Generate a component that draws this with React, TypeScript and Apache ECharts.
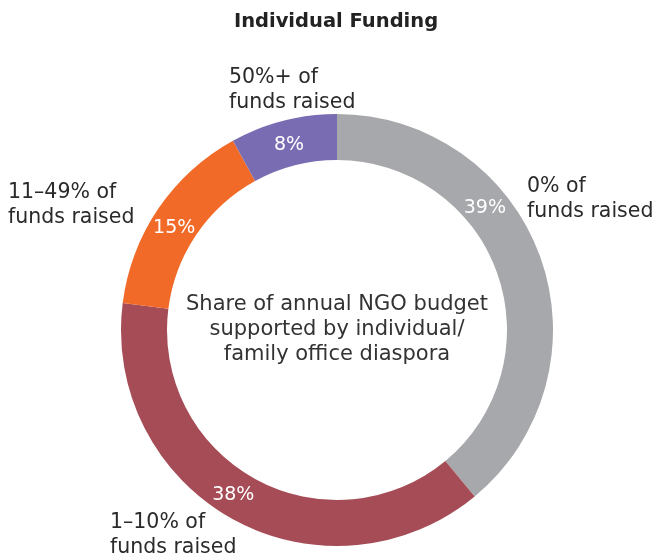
import React, { useEffect, useRef } from "react";
import * as echarts from "echarts";

const title = "Individual Funding";
const centerText = ["Share of annual NGO budget", "supported by individual/", "family office diaspora"];
const categories = ["0% of\nfunds raised", "1–10% of\nfunds raised", "11–49% of\nfunds raised", "50%+ of\nfunds raised"];
const values = [39, 38, 15, 8];
const colors = ["#a7a8ab", "#a54c56", "#f26a27", "#7a6cb2"];
const FONT = "DejaVu Sans";

export default function App() {
  const ref = useRef<HTMLDivElement>(null);
  useEffect(() => {
    if (!ref.current) return;
    const chart = echarts.init(ref.current, null, { renderer: "svg" });
    const cx = 337, cy = 330, rIn = 170, rOut = 216;
    const labelR = 193;
    const labelAngles = [50, 212.5, 302.5, 345.6];
    const outerPos = [
      { x: 527, y: 172 },
      { x: 110, y: 508 },
      { x: 8, y: 178 },
      { x: 229, y: 63 },
    ];
    chart.setOption({
      animation: false,
      graphic: [
        {
          type: "text",
          x: 336,
          y: 20,
          style: {
            text: title,
            fontFamily: FONT,
            fontSize: 19.5,
            fontWeight: "bold",
            fill: "#222",
            align: "center",
            verticalAlign: "middle",
          },
        },
        {
          type: "text",
          x: cx,
          y: cy - 2,
          style: {
            text: centerText.join("\n"),
            fontFamily: FONT,
            fontSize: 21,
            lineHeight: 25,
            fill: "#333",
            align: "center",
            verticalAlign: "middle",
          },
        },
        ...categories.map((c, i) => ({
          type: "text",
          x: outerPos[i].x,
          y: outerPos[i].y,
          style: {
            text: c,
            fontFamily: FONT,
            fontSize: 20.5,
            lineHeight: 25,
            fill: "#2a2a2a",
            align: "left",
            verticalAlign: "top",
          },
        })),
      ],
      series: [
        {
          type: "pie",
          center: [cx, cy],
          radius: [rIn, rOut],
          startAngle: 90,
          clockwise: true,
          avoidLabelOverlap: false,
          itemStyle: { borderWidth: 0 },
          label: {
            show: true,
            position: "inside",
            formatter: "{c}%",
            color: "#fff",
            fontFamily: FONT,
            fontSize: 19,
          },
          labelLine: { show: false },
          labelLayout: (p: any) => {
            const a = (labelAngles[p.dataIndex] * Math.PI) / 180;
            return { x: cx + labelR * Math.sin(a), y: cy - labelR * Math.cos(a), align: "center", verticalAlign: "middle" };
          },
          emphasis: { disabled: true },
          data: values.map((v, i) => ({ value: v, name: categories[i], itemStyle: { color: colors[i] } })),
        },
      ],
    });
    return () => chart.dispose();
  }, []);
  return <div ref={ref} style={{ position: "fixed", left: 0, top: 0, width: 658, height: 558 }} />;
}
